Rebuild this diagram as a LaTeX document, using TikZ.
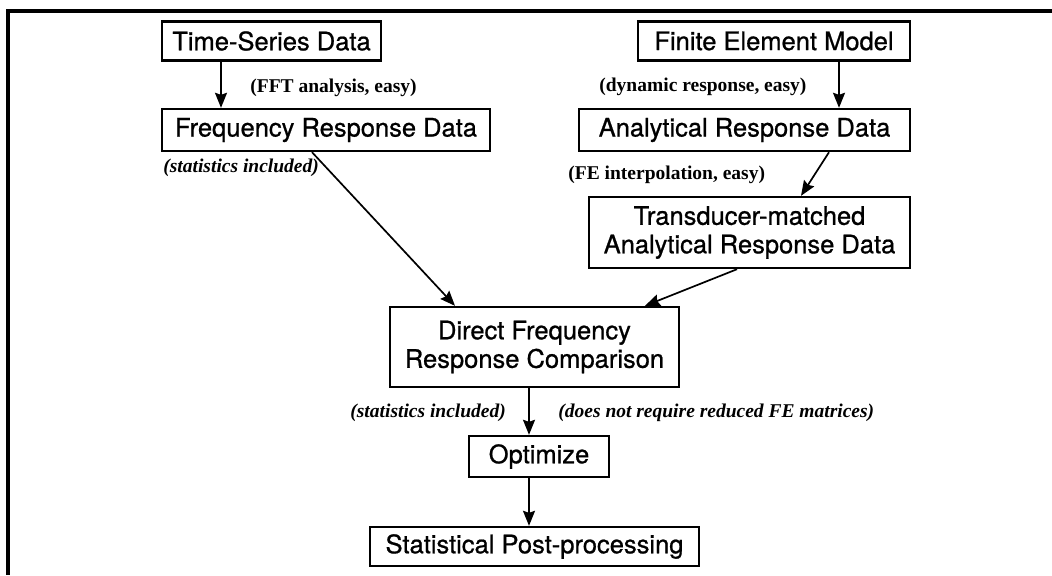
\documentclass[tikz,border=0pt]{standalone}
\usepackage{fontspec}
\setmainfont{Liberation Serif}
\newfontfamily\boxfont[FakeBold=0.8]{TeX Gyre Heros}
\usetikzlibrary{arrows.meta,calc}
\begin{document}
\begin{tikzpicture}[x=0.5pt,y=-0.5pt,
  blk/.style={draw, line width=1.2pt, inner sep=0pt, align=center,
    font=\boxfont\fontsize{12.75}{14.25}\selectfont},
  lbl/.style={anchor=west, inner sep=0pt, font=\bfseries\fontsize{9.75}{11}\selectfont},
  ilbl/.style={anchor=west, inner sep=0pt, font=\bfseries\itshape\fontsize{9.75}{11}\selectfont},
  conn/.style={line width=0.85pt, -{Stealth[length=7.5pt,width=6pt,inset=1pt]}},
  frame/.style={line width=1.6pt}]
\useasboundingbox (0,0) rectangle (1052,575);
\fill[white] (0,0) rectangle (1052,575);
\draw[frame] (1052,11) -- (8,11) -- (8,575);

\node[blk, minimum width=109.5pt, minimum height=19.5pt] (ts) at (271.5,41) {Time-Series Data};
\node[blk, minimum width=136pt, minimum height=19.5pt] (fem) at (774,41) {Finite Element Model};
\node[blk, minimum width=164pt, minimum height=21pt] (freq) at (326,130) {Frequency Response Data};
\node[blk, minimum width=165.5pt, minimum height=21pt] (ard) at (744.5,130) {Analytical Response Data};
\node[blk, minimum width=160.5pt, minimum height=35.5pt] (trans) at (749.5,232.5) {Transducer-matched\\Analytical Response Data};
\node[blk, minimum width=144.5pt, minimum height=40pt] (direct) at (534.5,347) {Direct Frequency\\Response Comparison};
\node[blk, minimum width=70pt, minimum height=20.5pt] (opt) at (539,456.5) {Optimize};
\node[blk, minimum width=164.5pt, minimum height=19.5pt] (stat) at (534.5,546.5) {Statistical Post-processing};

\node[lbl] (l1) at (250,88) {(FFT analysis, easy)};
\node[lbl] (l2) at (599,87) {(dynamic response, easy)};
\node[ilbl] (l3) at (163,168) {(statistics included)};
\node[lbl] (l4) at (568,175) {(FE interpolation, easy)};
\node[ilbl] (l5) at (350,413) {(statistics included)};
\node[ilbl] (l6) at (558,413) {(does not require reduced FE matrices)};

\coordinate (a1) at (221,0);
\coordinate (a2) at (839,0);
\coordinate (a3) at (529,0);
\draw[conn] (ts.south -| a1) -- (freq.north -| a1);
\draw[conn] (fem.south -| a2) -- (ard.north -| a2);
\draw[conn] ($(ard.south)+(84.5,0)$) -- ($(trans.north)+(51.5,0)$);
\draw[conn] ($(freq.south)+(-14,0)$) -- ($(direct.north)+(-79.5,0)$);
\draw[conn] ($(trans.south)+(-12.5,0)$) -- ($(direct.north)+(110.5,0)$);
\draw[conn] (direct.south -| a3) -- (opt.north -| a3);
\draw[conn] (opt.south -| a3) -- (stat.north -| a3);
\end{tikzpicture}
\end{document}
